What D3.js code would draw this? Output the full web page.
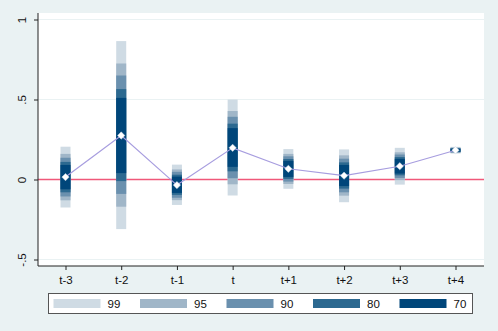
<!DOCTYPE html>
<html><head><meta charset="utf-8">
<script src="https://cdn.jsdelivr.net/npm/d3@7"></script>
<style>body{margin:0;background:#eaf2f3;}svg{display:block;font-family:"Liberation Sans",Arial,sans-serif;}</style>
</head><body><svg id="c" width="498" height="331"></svg>
<script>
const categories = ["t-3","t-2","t-1","t","t+1","t+2","t+3","t+4"];
const estimates = [0.015, 0.275, -0.035, 0.198, 0.067, 0.024, 0.083, 0.183];
const levels = ["99","95","90","80","70"];
const levelColors = ["#cfdbe4","#a0b6c8","#6a90ae","#2c6990","#00467a"];
// confidence bounds per level (rows follow categories)
const lo99 = [-0.175,-0.31,-0.159,-0.10,-0.058,-0.142,-0.032,0.162];
const hi99 = [ 0.205, 0.865, 0.093, 0.50, 0.19, 0.188, 0.198, 0.204];
const lo95 = [-0.13,-0.17,-0.129,-0.03,-0.028,-0.101,-0.004,0.166];
const hi95 = [ 0.16, 0.725, 0.063, 0.428, 0.16, 0.151, 0.17, 0.200];
const lo90 = [-0.106,-0.09,-0.114,0.008,-0.013,-0.08,0.01,0.169];
const hi90 = [ 0.136, 0.65, 0.048, 0.392, 0.145, 0.13, 0.156, 0.197];
const lo80 = [-0.08,-0.01,-0.096,0.051,0.004,-0.057,0.026,0.172];
const hi80 = [ 0.11, 0.565, 0.030, 0.349, 0.128, 0.107, 0.14, 0.194];
const lo70 = [-0.061,0.04,-0.084,0.079,0.016,-0.041,0.037,0.174];
const hi70 = [ 0.091, 0.51, 0.018, 0.321, 0.116, 0.091, 0.129, 0.192];
const yTicks = [-0.5, 0, 0.5, 1];
const yTickLabels = ["-.5","0",".5","1"];

const bounds = [[lo99,hi99],[lo95,hi95],[lo90,hi90],[lo80,hi80],[lo70,hi70]];

const svg = d3.select("#c");
const L = 38, R = 484, T = 13, B = 266;
svg.append("rect").attr("x",0).attr("y",0).attr("width",498).attr("height",331).attr("fill","#eaf2f3");
svg.append("rect").attr("x",L).attr("y",T).attr("width",R-L).attr("height",B-T).attr("fill","#ffffff");

const x = d3.scalePoint().domain(categories).range([65.5, 455.5]);
const y = d3.scaleLinear().domain([-0.5, 1]).range([259.5, 19.5]);

// grid
svg.append("g").selectAll("line").data(yTicks).join("line")
  .attr("x1",L).attr("x2",R).attr("y1",d=>y(d)).attr("y2",d=>y(d))
  .attr("stroke","#eaf2f3").attr("stroke-width",1);

// zero reference line
svg.append("line").attr("x1",L).attr("x2",R).attr("y1",y(0)).attr("y2",y(0))
  .attr("stroke","#f0587a").attr("stroke-width",1.6);

// bands
const bw = 10;
bounds.forEach(([lo,hi],li)=>{
  svg.append("g").selectAll("rect").data(categories).join("rect")
    .attr("x",d=>x(d)-bw/2).attr("width",bw)
    .attr("y",(d,i)=>y(hi[i])).attr("height",(d,i)=>y(lo[i])-y(hi[i]))
    .attr("fill",levelColors[li]);
});

// connecting line
svg.append("path").datum(estimates)
  .attr("d", d3.line().x((d,i)=>x(categories[i])).y(d=>y(d)))
  .attr("fill","none").attr("stroke","#a79ddf").attr("stroke-width",1.2);

// markers
svg.append("g").selectAll("path").data(estimates).join("path")
  .attr("transform",(d,i)=>`translate(${x(categories[i])},${y(d)})`)
  .attr("d", d3.symbol().type(d3.symbolDiamond2).size(34))
  .attr("fill","#ffffff").attr("stroke","#c8d6e6").attr("stroke-width",0.5);

// y axis
const yAxis = d3.axisLeft(y).tickValues(yTicks).tickFormat((d,i)=>yTickLabels[i]).tickSize(4).tickSizeOuter(0);
const gy = svg.append("g").attr("transform",`translate(${L},0)`).call(yAxis);
gy.select(".domain").remove();
svg.append("line").attr("x1",L).attr("x2",L).attr("y1",T).attr("y2",B).attr("stroke","#222").attr("stroke-width",1);
gy.selectAll(".tick line").attr("stroke","#222");
gy.selectAll(".tick text").attr("x",0).attr("dy",0).attr("text-anchor","middle")
  .attr("transform",d=>`translate(-16,${0}) rotate(-90)`)
  .attr("font-size",11.5).attr("fill","#111").attr("dominant-baseline","central");

// x axis
const xAxis = d3.axisBottom(x).tickSize(4).tickSizeOuter(0);
const gx = svg.append("g").attr("transform",`translate(0,${B})`).call(xAxis);
gx.select(".domain").remove();
svg.append("line").attr("x1",L).attr("x2",R).attr("y1",B).attr("y2",B).attr("stroke","#222").attr("stroke-width",1);
gx.selectAll(".tick line").attr("stroke","#222");
gx.selectAll(".tick text").attr("y",10).attr("dy","0.71em").attr("font-size",11.5).attr("fill","#111");

// legend
const lg = svg.append("g");
lg.append("rect").attr("x",48.5).attr("y",293.5).attr("width",424).attr("height",20)
  .attr("fill","#ffffff").attr("stroke","#555").attr("stroke-width",1);
const lx = d3.scaleLinear().domain([0,4]).range([53.5,399.5]);
levels.forEach((lv,i)=>{
  lg.append("rect").attr("x",lx(i)).attr("y",299).attr("width",47).attr("height",9).attr("fill",levelColors[i]);
  lg.append("text").attr("x",lx(i)+54).attr("y",303.5).attr("dominant-baseline","central")
    .attr("font-size",11.5).attr("fill","#111").text(lv);
});
</script></body></html>
